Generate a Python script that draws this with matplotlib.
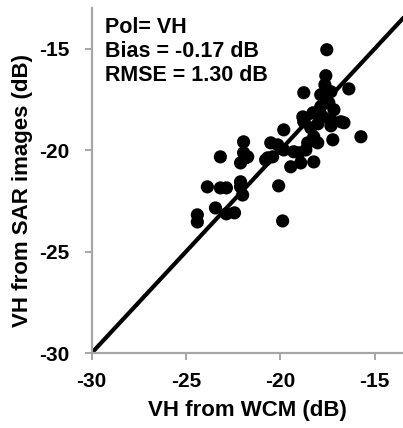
import matplotlib
matplotlib.use("Agg")
import matplotlib.pyplot as plt

# VH from WCM (dB)
wcm = [-17.54, -17.59, -17.64, -17.32, -18.76, -16.37, -17.86, -17.43, -17.16, -17.75,
       -18.01, -18.39, -17.32, -16.63, -15.73, -17.22, -19.82, -20.51, -20.14, -20.41,
       -20.67, -19.45, -18.92, -18.23, -23.18, -21.95, -21.95, -21.73, -22.11, -22.11,
       -23.87, -23.18, -22.86, -24.40, -24.40, -23.44, -22.86, -22.43, -22.00, -20.09,
       -19.88, -18.27, -18.81, -18.76, -17.86, -17.70, -18.23, -18.55, -18.02, -19.82,
       -19.29, -19.02, -18.65, -16.79, -17.32, -21.84, -22.11, -20.78]
# VH from SAR images (dB)
sar = [-15.05, -16.33, -16.78, -17.12, -17.17, -16.98, -17.27, -17.67, -18.01, -18.36,
       -18.70, -18.90, -18.80, -18.65, -19.34, -19.49, -19.00, -19.64, -19.74, -20.33,
       -20.38, -20.82, -20.63, -20.58, -20.33, -19.59, -20.13, -20.33, -21.56, -21.81,
       -21.81, -21.86, -21.86, -23.19, -23.54, -22.85, -23.14, -23.09, -22.21, -21.76,
       -23.49, -18.16, -18.36, -18.60, -17.86, -17.42, -19.34, -19.64, -19.64, -19.99,
       -20.08, -20.13, -19.99, -18.60, -18.50, -20.38, -20.63, -20.48]

one_to_one = [-30, -13]
xticks = [-30, -25, -20, -15]
yticks = [-30, -25, -20, -15]
stats = ["Pol= VH", "Bias = -0.17 dB", "RMSE = 1.30 dB"]

plt.rcParams['font.family'] = ['Liberation Sans', 'DejaVu Sans']
plt.rcParams['font.weight'] = 'bold'

fig = plt.figure(figsize=(4.03, 4.28), dpi=100)
ax = fig.add_axes([0.2275, 0.1752, 0.7725, 0.8058])

ax.scatter(wcm, sar, s=90, color='black', edgecolors='none', zorder=3)
ax.plot(one_to_one, one_to_one, color='black', lw=3, zorder=2, solid_capstyle='butt')

ax.set_xlim(-30, -13.5)
ax.set_ylim(-30, -13)
ax.set_xticks(xticks)
ax.set_yticks(yticks)
ax.set_xticklabels([str(t) for t in xticks], fontsize=15, fontweight='bold')
ax.set_yticklabels([str(t) for t in yticks], fontsize=15, fontweight='bold')

for side in ['top', 'right']:
    ax.spines[side].set_visible(False)
for side in ['left', 'bottom']:
    ax.spines[side].set_color('#A6A6A6')
    ax.spines[side].set_linewidth(1.6)
ax.tick_params(axis='both', direction='out', length=5, width=1.4, color='#A6A6A6',
               labelcolor='black')
ax.tick_params(axis='x', pad=9)
ax.tick_params(axis='y', pad=11)

ax.set_xlabel("VH from WCM (dB)", fontsize=16, fontweight='bold', labelpad=6)
ax.set_ylabel("VH from SAR images (dB)", fontsize=16, fontweight='bold')
ax.yaxis.set_label_coords(-0.19, 0.47)

ax.text(0.042, 0.975, "\n".join(stats), transform=ax.transAxes, fontsize=15.5,
        fontweight='bold', va='top', ha='left', linespacing=1.2)

fig.savefig("out.png", dpi=100)
